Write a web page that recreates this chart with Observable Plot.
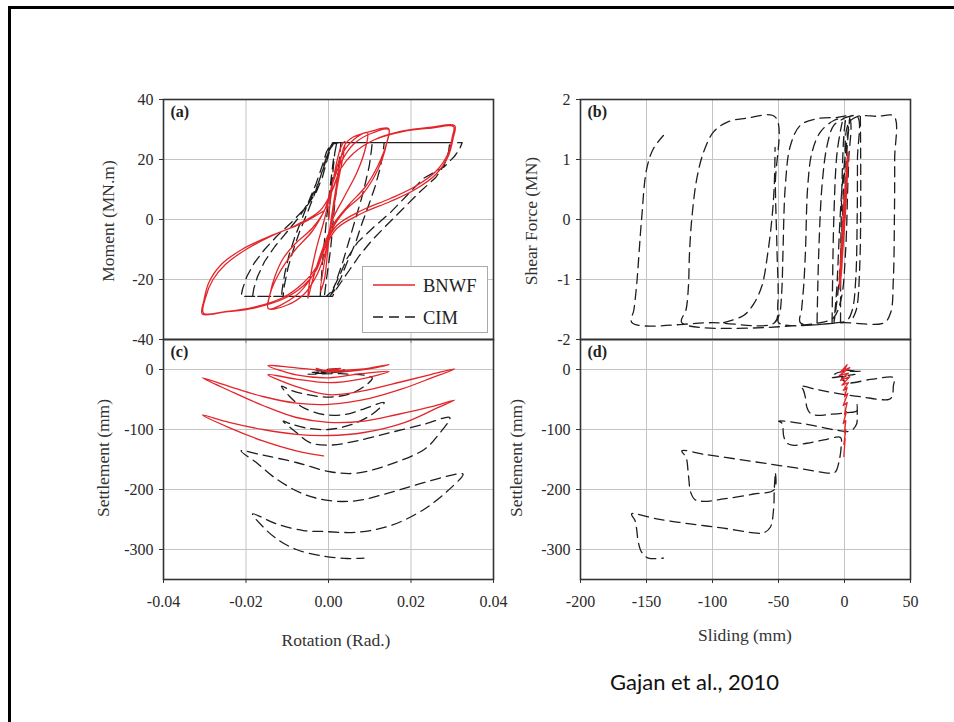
<!DOCTYPE html>
<html><head><meta charset="utf-8">
<script src="https://cdn.jsdelivr.net/npm/d3@7"></script>
<script src="https://cdn.jsdelivr.net/npm/@observablehq/plot@0.6"></script>
<style>
body{margin:0;background:#fff;}
#stage{position:relative;width:954px;height:722px;overflow:hidden;background:#fff;}
.frameL{position:absolute;left:8px;top:6px;width:3px;height:716px;background:#000;}
.frameT{position:absolute;left:8px;top:6px;width:946px;height:3px;background:#000;}
.t{position:absolute;font-family:"Liberation Serif",serif;font-size:17.5px;color:#333;white-space:nowrap;line-height:1;}
.rot{transform:translate(-50%,-50%) rotate(-90deg);}
.hz{transform:translate(-50%,-50%);}
#legend{position:absolute;left:362px;top:266px;width:126px;height:67px;border:1px solid #aaa;background:#fff;box-sizing:border-box;}
#cap{position:absolute;left:610px;top:671px;font-family:Lato,"Liberation Sans",sans-serif;font-size:22px;color:#111;line-height:1;white-space:nowrap;}
</style></head>
<body>
<div id="stage">
  <div class="frameL"></div><div class="frameT"></div>
</div>
<script>
// ---------- tick values ----------
const rotTicks = [-0.04, -0.02, 0, 0.02, 0.04];
const momentTicks = [40, 20, 0, -20, -40];
const slideTicks = [-200, -150, -100, -50, 0, 50];
const shearTicks = [2, 1, 0, -1, -2];
const settleTicks = [0, -100, -200, -300];

// ---------- (a) Moment vs Rotation ----------
const bnwfMoment = [
[0,0],[0.001,12],[0.003,24],[0.004,26],[0.002,10],[0,-8],[-0.001,-20],[-0.002,-24],[0,-6],[0.002,12],[0.004,25],
[0.006,27.5],[0.01,29.3],[0.0146,30.3],
[0.0142,26],[0.013,20],[0.011,14],[0.008,8],[0.004,3],[0.001,-3],[-0.001,-12],[-0.003,-19],[-0.006,-25],[-0.01,-28.5],[-0.0146,-29.7],
[-0.0142,-25],[-0.013,-19],[-0.011,-13],[-0.008,-8],[-0.004,-3],[-0.001,3],[0.001,12],[0.003,19],[0.006,25],[0.01,28.5],[0.0146,30],
[0.014,25],[0.012,18],[0.009,11],[0.005,5],[0.001,-2],[-0.002,-12],[-0.004,-21],[-0.005,-26.3],
[-0.0045,-20],[-0.003,-10],[-0.001,0],[0.001,12],[0.003,21],[0.006,26.5],[0.0094,29],
[0.009,24],[0.007,16],[0.004,8],[0.001,0],[-0.001,-10],[-0.004,-19],[-0.008,-25.5],[-0.0146,-29.7],
[-0.0142,-25],[-0.012,-18],[-0.008,-10],[-0.004,-4],[-0.001,3],[0.001,10],[0.003,17],[0.006,22],[0.011,26.5],[0.018,29.5],[0.025,30.8],[0.0306,31.3],
[0.0302,27],[0.029,21],[0.026,15],[0.021,10],[0.015,6],[0.008,2],[0.002,-3],[-0.001,-10],[-0.003,-17],[-0.006,-22],[-0.011,-26.5],[-0.018,-29.5],[-0.025,-30.8],[-0.0306,-31.5],
[-0.0302,-27],[-0.029,-21],[-0.026,-15],[-0.021,-10],[-0.015,-6],[-0.008,-2],[-0.002,3],[0.001,10],[0.003,17],[0.006,22],[0.011,26.5],[0.018,29.3],[0.025,30.5],[0.0303,31],
[0.03,27.5],[0.029,22],[0.026,16],[0.021,11],[0.015,7],[0.008,3],[0.002,-2],[-0.001,-9],[-0.003,-16],[-0.006,-21],[-0.011,-26],[-0.018,-29.2],[-0.025,-30.7],[-0.0303,-31.2],
[-0.0298,-26],[-0.028,-20],[-0.025,-15],[-0.02,-10],[-0.013,-5],[-0.006,-1],[-0.001,3]
];
const cimMoment = [
[0,0],[0.0008,12],[0.0015,22],[0.002,25.6],[0.003,25.6],[0.0025,18],[0.0015,5],[0.0005,-10],[-0.0005,-20],[-0.001,-25.6],[-0.002,-25.6],[-0.0015,-15],[-0.0005,0],[0.0005,12],[0.0012,20],[0.002,25.6],
[0.0106,25.6],
[0.0104,23],[0.0099,18],[0.009,12.5],[0.008,7],[0.0065,0],[0.005,-7],[0.0035,-14],[0.002,-20],[0.001,-24],[0,-25.6],
[-0.0114,-25.6],
[-0.0112,-23],[-0.0106,-18],[-0.0096,-12],[-0.0082,-6],[-0.0065,0],[-0.0048,6],[-0.003,12],[-0.0015,18],[-0.0005,22.5],[0.0005,25],[0.0015,25.6],
[0.0135,25.6],
[0.0132,22],[0.0125,17],[0.0113,11],[0.0098,5],[0.0082,-1],[0.0065,-8],[0.0046,-14],[0.003,-19.5],[0.0015,-23.5],[0.0003,-25.6],
[-0.011,-25.6],
[-0.0107,-22],[-0.0098,-16],[-0.0085,-10],[-0.007,-4],[-0.0052,2],[-0.0035,8],[-0.002,14],[-0.0008,19.5],[0.0002,23.5],[0.001,25.6],
[0.0294,25.6],
[0.0291,22.5],[0.028,18],[0.026,14],[0.022,9],[0.018,3.5],[0.014,-2],[0.0105,-7],[0.0075,-12],[0.005,-17],[0.003,-21],[0.0015,-24],[0.001,-25.6],
[-0.0212,-25.6],
[-0.0208,-23],[-0.0198,-19],[-0.018,-14.5],[-0.0155,-10],[-0.0125,-5.5],[-0.009,-1],[-0.0055,4],[-0.003,9],[-0.0015,14],[-0.0005,19],[0.0003,23],[0.0012,25.2],[0.002,25.6],
[0.0324,25.6],
[0.0318,23.5],[0.0305,21],[0.028,17.5],[0.023,13.7],[0.019,8],[0.015,2.3],[0.011,-2.5],[0.007,-7.7],[0.0045,-13],[0.003,-17.7],[0.0015,-22],[0.0005,-24.3],[-0.0005,-25.6],
[-0.0184,-25.6],
[-0.0181,-23],[-0.0172,-19],[-0.0155,-14],[-0.013,-9],[-0.01,-4],[-0.007,1],[-0.0045,6.5],[-0.0025,12],[-0.001,18],[0,22.5],[0.001,25],[0.0025,25.6],
[0.0086,25.6]
];

// ---------- (b) Shear vs Sliding ----------
const bnwfShear = [[0,0],[1.5,0.9],[2.5,1.12],[0.5,0.3],[-2,-0.8],[-3.5,-1.16],[-1,-0.2],[1,0.7],[2,1.0],[0,0.1],[-2.5,-0.9],[-3,-1.0],[-0.5,0],[1.5,0.8],[3,1.1],[1,0.2],[-1.5,-0.6],[-4,-1.1],[-2,-0.3],[0,0.5]];
const cimShear = [
[0,0],[2,1.2],[4,1.7],[-2,0.5],[-6,-1.2],[-8,-1.72],[-4,-1],[0,0.8],[3,1.6],
[10,1.72],[25,1.72],[37.5,1.72],
[38,1.0],[37.8,0],[37,-1.0],[35,-1.55],[30,-1.72],
[0,-1.72],[-33.4,-1.72],
[-32.5,-1.5],[-30.9,-1.1],[-29.6,-0.54],[-27.8,0.57],[-24.6,1.12],[-18.2,1.46],[-8.1,1.65],[-0.5,1.69],[9.6,1.72],
[9.8,1.0],[9.6,0.01],[8.5,-1.0],[6,-1.5],[2,-1.68],[-5.6,-1.72],[-49.9,-1.72],
[-48.5,-1.5],[-47.3,-1.1],[-46.6,-0.54],[-44.8,0.57],[-41,1.23],[-33.4,1.57],[-20.8,1.68],[-5.6,1.7],[3.3,1.71],
[3.2,1.0],[2.5,0.57],[0.8,-0.54],[-2.5,-1.32],[-8.1,-1.63],[-18.2,-1.72],[-123.3,-1.72],
[-120,-1.5],[-118.2,-1.1],[-117.5,-0.6],[-115.7,0.01],[-111.9,0.68],[-106.8,1.12],[-99.2,1.46],[-89.1,1.62],[-73.9,1.69],[-52.4,1.706],
[-52.4,0.57],[-51.1,-0.54],[-50.5,-1.4],[-53,-1.72],[-100,-1.72],[-161,-1.72],
[-159.5,-1.5],[-157.5,-1.1],[-153.7,0.01],[-149.9,0.84],[-144.8,1.18],[-137.2,1.4]
];
const cimShear2 = [[-20.8,-1.72],[-19.5,-0.54],[-17,0.57],[-13.2,1.23],[-8.1,1.57],[-0.5,1.68]];
const cimShear3 = [[-9.4,-1.72],[-8.1,0.01],[-5.6,1.12],[-1.8,1.62]];
const cimShear4 = [[-3,-1.72],[-2.5,0.01],[-0.5,1.4],[1,1.7]];
const cimShear5 = [[-91.6,-1.72],[-76.5,-1.6],[-68.9,-1.41],[-62.5,-1.1],[-58,-0.54],[-55,0.01],[-53.2,0.57],[-52.6,1.2]];
const cimShear6 = [[12,1.72],[12.3,0.5],[11.5,-0.8],[9,-1.5],[5,-1.7]];

// ---------- (c) Settlement vs Rotation ----------
const bnwfSettleRot = [
[0,0],[0.002,1],[0.003,2],[0.001,-2],[-0.001,-2],[-0.003,2],[-0.001,-3],[0.001,-4],
[0.005,-3],[0.010,1],[0.0147,8.3],
[0.0078,0.5],[0,-1.7],[-0.0078,2.8],[-0.0147,6.6],
[-0.0078,-9],[0,-13.8],[0.0078,-7],[0.0147,-3],
[0.0078,-16],[0,-22],[-0.0078,-16],[-0.0147,-8.3],
[-0.008,-28],[0,-42],[0.008,-36],[0.018,-20],[0.025,-8],[0.0306,1.1],
[0.025,-14],[0.018,-32],[0.01,-48],[0,-58],[-0.0078,-56],[-0.0159,-45],[-0.0241,-28],[-0.0306,-13.8],
[-0.0241,-35],[-0.0159,-60],[-0.0078,-80],[0,-88],[0.0086,-86],[0.0167,-75],[0.025,-62],[0.0306,-50.9],
[0.0265,-63.6],[0.0184,-88.5],[0.0086,-105],[0,-110],[-0.0078,-108],[-0.0159,-100],[-0.0241,-88],[-0.0306,-75.8],
[-0.0241,-96.8],[-0.0159,-119],[-0.0078,-135.6],[-0.0012,-143.9]
];
const cimSettleRot = [
[0,0],[0.003,2],[-0.003,-2],[0.004,-1],[-0.004,-5],[0.005,-3],[-0.005,-8],[0.003,-7],[0.0106,-14],
[0.0085,-29],[0.005,-41],[0,-46],[-0.005,-42],[-0.009,-35],[-0.0114,-27.7],
[-0.0094,-45],[-0.0065,-62],[-0.0012,-75],[0.004,-75],[0.008,-67],[0.0135,-55],
[0.0105,-75],[0.0055,-92],[0,-100],[-0.005,-98],[-0.009,-91],[-0.011,-86],
[-0.0078,-105],[-0.0045,-122],[0.0004,-126],[0.0069,-119],[0.0151,-105],[0.0233,-91],[0.0294,-80.2],
[0.0265,-110],[0.0233,-132.8],[0.0151,-157.7],[0.0069,-172.7],[0.0004,-170.4],[-0.0078,-155],[-0.0159,-142.8],[-0.0212,-135.6],
[-0.0175,-155],[-0.0126,-182.6],[-0.0061,-207.5],[0.0004,-218.6],[0.0069,-218.6],[0.0151,-204.8],[0.0233,-188.2],[0.0326,-174.3],
[0.0298,-196.5],[0.0233,-232.4],[0.0151,-260.1],[0.0069,-271.2],[-0.0012,-270],[-0.0061,-268.4],[-0.0126,-257.3],[-0.0184,-240.7],
[-0.0159,-262],[-0.0126,-282],[-0.0078,-300],[-0.0012,-311],[0.0045,-315],[0.0086,-314.3]
];

// ---------- (d) Settlement vs Sliding ----------
const bnwfSettleSlide = [[0,0],[2,8],[-3,-4],[4,3],[-4,-10],[3,-6],[-3,-18],[4,-12],[-2,-26],[3,-22],[-1,-35],[2,-30],[0,-45],[2.5,-40],[-1,-60],[2,-55],[0,-75],[1.5,-70],[-1,-90],[1,-85],[0,-105],[1,-100],[-0.5,-125],[0.5,-115],[-0.5,-145]];
const cimSettleSlide = [
[0,0],[5,-2],[12,-3],[-5,-5],[-10,-13],[2,-10],[8,-8],[-2,-14],
[2,-22],[19.7,-16.6],[37.5,-13.8],
[37,-27.7],[36.2,-44.3],[33.7,-49.8],
[12.2,-45.4],[-5.6,-39.8],[-20.8,-33.2],[-33.4,-27.7],
[-31.4,-33.2],[-29.6,-47],[-28.4,-63.6],[-25.8,-73],[-20.8,-76.4],
[-10.6,-74.7],[2,-71.9],[9.1,-69.2],[9.6,-58.1],[9.6,-77.5],[9.1,-91.3],[4.6,-102.4],
[-5.6,-101.3],[-28.4,-91.3],[-49.9,-85.8],
[-47.3,-89.7],[-46.1,-110.7],[-44,-121.7],[-39.7,-126.2],
[-28.4,-122.9],[-15.7,-117.3],[-3,-113.4],[-2.5,-127.3],[-4.3,-155],[-6.8,-170.4],[-10.6,-172.7],
[-30.9,-166],[-56.2,-157.7],[-81.5,-149.4],[-106.8,-141.1],[-123.3,-135.6],
[-120,-146.7],[-118.2,-177],[-116.5,-204.8],[-113.2,-217],[-106.8,-219.7],
[-91.6,-215.8],[-68.9,-207.5],[-53.2,-200.3],[-52.4,-171.6],[-53.2,-200.3],
[-53.7,-232.4],[-56.2,-262.9],[-61.3,-272.3],[-66.3,-272.8],
[-91.6,-264.5],[-117,-257.3],[-142.3,-249],[-161.3,-240.7],
[-158.7,-251.8],[-157.5,-265.6],[-156.2,-287.8],[-153.7,-304.4],[-148.6,-314.3],[-137.2,-314.3]
];

// ---------- helpers ----------
const W = 954, H = 722;
const RED = "#e4262b", BLK = "#1e1e1e", DASH = "10,6";
function rows(strokes){ return strokes.flatMap((s,i)=>s.map(p=>({x:p[0],y:p[1],k:i}))); }
const fmtInt = d => String(d);
const fmtRot = d => d.toFixed(2);

function panel(box, xDom, yDom, xT, yT, xFmt, yFmt, showX, label, dataMarks){
  return Plot.plot({
    width: W, height: H,
    marginLeft: box[0], marginTop: box[1], marginRight: W - box[2], marginBottom: H - box[3],
    x: {domain: xDom}, y: {domain: yDom},
    style: {position:"absolute", left:"0px", top:"0px", background:"transparent", overflow:"visible", fontFamily:"'Liberation Serif', serif"},
    marks: [
      Plot.gridX(xT, {stroke:"#c4c4c4", strokeOpacity:1, strokeWidth:1}),
      Plot.gridY(yT, {stroke:"#c4c4c4", strokeOpacity:1, strokeWidth:1}),
      ...dataMarks,
      Plot.frame({stroke:"#333", strokeWidth:1.6}),
      Plot.axisY(yT, {tickSize:4, tickPadding:6, tickFormat:yFmt, fontSize:16, fill:"#2a2a2a", stroke:"#333", label:null}),
      Plot.axisX(xT, {tickSize:4, tickPadding:12, tickFormat: showX ? xFmt : () => "", fontSize:16, fill:"#2a2a2a", stroke:"#333", label:null}),
      Plot.text([label], {frameAnchor:"top-left", dx:7, dy:6, fontWeight:"bold", fontSize:16, fill:"#222"})
    ]
  });
}
function redLine(arr, curve){ return Plot.line(arr, {x:d=>d[0], y:d=>d[1], stroke:RED, strokeWidth:1.3, curve: curve || "catmull-rom", clip:true}); }
function cimLines(strokes, curve){ return Plot.line(rows(strokes), {x:"x", y:"y", z:"k", stroke:BLK, strokeWidth:1.3, strokeDasharray:DASH, curve: curve || "catmull-rom", clip:true}); }

const stage = document.getElementById("stage");
stage.appendChild(panel([163,99,493,339], [-0.04,0.04], [-40,40], rotTicks, momentTicks, fmtRot, fmtInt, false, "(a)",
  [cimLines([cimMoment], "linear"), redLine(bnwfMoment)]));
stage.appendChild(panel([580,99,910,339], [-200,50], [-2,2], slideTicks, shearTicks, fmtInt, fmtInt, false, "(b)",
  [cimLines([cimShear, cimShear2, cimShear3, cimShear4, cimShear5, cimShear6]), redLine(bnwfShear, "linear")]));
stage.appendChild(panel([163,339,493,579], [-0.04,0.04], [-350,50], rotTicks, settleTicks, fmtRot, fmtInt, true, "(c)",
  [cimLines([cimSettleRot]), redLine(bnwfSettleRot)]));
stage.appendChild(panel([580,339,910,579], [-200,50], [-350,50], slideTicks, settleTicks, fmtInt, fmtInt, true, "(d)",
  [cimLines([cimSettleSlide]), redLine(bnwfSettleSlide, "linear")]));

// ---------- texts ----------
function addText(txt, x, y, cls){ const d=document.createElement("div"); d.className="t "+cls; d.style.left=x+"px"; d.style.top=y+"px"; d.textContent=txt; stage.appendChild(d); }
addText("Moment (MN.m)", 109, 221, "rot");
addText("Shear Force (MN)", 532, 221, "rot");
addText("Settlement (mm)", 104, 458, "rot");
addText("Settlement (mm)", 517, 458, "rot");
addText("Rotation (Rad.)", 336, 641, "hz");
addText("Sliding (mm)", 745, 636, "hz");

const leg = document.createElement("div"); leg.id="legend";
leg.innerHTML = '<svg width="124" height="65" style="display:block">'+
 '<line x1="10" x2="52" y1="18" y2="18" stroke="'+RED+'" stroke-width="1.4"/>'+
 '<text x="60" y="24.5" font-family="Liberation Serif, serif" font-size="18.5" fill="#222">BNWF</text>'+
 '<line x1="10" x2="52" y1="50" y2="50" stroke="'+BLK+'" stroke-width="1.4" stroke-dasharray="'+DASH+'"/>'+
 '<text x="60" y="56.5" font-family="Liberation Serif, serif" font-size="18.5" fill="#222">CIM</text></svg>';
stage.appendChild(leg);

const cap = document.createElement("div"); cap.id="cap"; cap.textContent="Gajan et al., 2010"; stage.appendChild(cap);
</script>
</body></html>
